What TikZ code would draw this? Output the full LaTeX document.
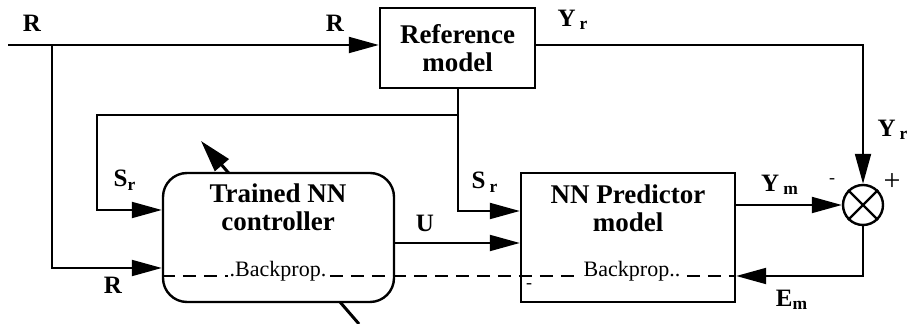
\documentclass[tikz,border=0pt]{standalone}
\usepackage{fontspec}
\setmainfont{Liberation Serif}
\usetikzlibrary{arrows.meta}

\begin{document}
\begin{tikzpicture}[x=0.5pt,y=-0.5pt,line width=1pt,
  arr/.style={-{Triangle[length=15pt,width=8pt]}},
  blk/.style={draw,fill=white,line width=1.2pt,inner sep=0pt},
  boxtxt/.style={font=\fontsize{13.5}{14}\selectfont\bfseries,align=center},
  lbl/.style={font=\fontsize{12.5}{12.5}\selectfont\bfseries,inner sep=1pt},
  bp/.style={font=\fontsize{11}{11}\selectfont,fill=white,inner sep=1pt},
  bpline/.style={dash pattern=on 6.5pt off 4pt}]
\useasboundingbox (0,0) rectangle (908,324);

% adjustment arrow through the controller
\coordinate (adjB) at (359,324);
\coordinate (adjT) at (201,141);
\draw[line width=1.5pt,-{Triangle[length=16pt,width=9pt]}] (adjB) -- (adjT);

% blocks
\node[blk,boxtxt,minimum width=77.5pt,minimum height=40pt] (refm) at (457.5,48) {Reference\\model};
\node[blk,rounded corners=12pt,minimum width=115.5pt,minimum height=64.5pt] (ctl) at (278.5,237.5) {};
\node[blk,minimum width=107pt,minimum height=64.5pt] (pred) at (628,237.5) {};
\node[blk,circle,minimum size=20pt] (sum) at (863,205) {};
\draw[line width=1.2pt] (sum.north west) -- (sum.south east);
\draw[line width=1.2pt] (sum.north east) -- (sum.south west);

% signals
\coordinate (rin) at (8,45);
\coordinate (rsplit) at (52,45);
\coordinate (srsplit) at (457.5,115);
\coordinate (srleft) at (97,115);
\draw[arr] (rin) -- (rin -| refm.west);
\draw[arr] (rsplit) |- (ctl.west |- 0,268);
\draw[arr] (refm.south) |- (pred.west |- 0,211);
\draw[arr] (srsplit) -- (srleft) |- (ctl.west |- 0,210);
\draw[arr] (ctl.east |- 0,243) -- (pred.west |- 0,243);
\draw[arr] (refm.east |- 0,45) -| (sum.north);
\draw[arr] (pred.east |- sum) -- (sum.west);

% backprop path
\coordinate (bpL) at (ctl.west |- 0,276);
\coordinate (bpR) at (pred.east |- 0,276);
\draw[bpline] (bpL) -- (bpR);
\draw[arr] (sum.south) |- (bpR);

% texts
\node[boxtxt] (ctltxt) at (278,207) {Trained NN\\controller};
\node[boxtxt] (predtxt) at (628,208) {NN Predictor\\model};
\node[bp] (ctlbp) at (278,271) {.Backprop.};
\node[bp] (predbp) at (632,271) {Backprop..};
\node[font=\small] (pminus) at (529,286) {-};

\node[lbl] (rlbl1) at (32,23) {R};
\node[lbl] (rlbl2) at (335,23) {R};
\node[lbl] (rlbl3) at (113,285) {R};
\node[lbl] (yrlbl1) at (573,20) {Y\,\textsubscript{r}};
\node[lbl] (yrlbl2) at (893,130) {Y\,\textsubscript{r}};
\node[lbl] (srlbl1) at (125,180) {S\textsubscript{r}};
\node[lbl] (srlbl2) at (485,182) {S\,\textsubscript{r}};
\node[lbl] (ulbl) at (425,223) {U};
\node[lbl] (ymlbl) at (780,185) {Y\,\textsubscript{m}};
\node[lbl] (emlbl) at (792,300) {E\textsubscript{m}};
\node[font=\small] (sminus) at (832,181) {-};
\node[font=\fontsize{15}{15}\selectfont] (splus) at (892,182) {+};
\end{tikzpicture}
\end{document}
